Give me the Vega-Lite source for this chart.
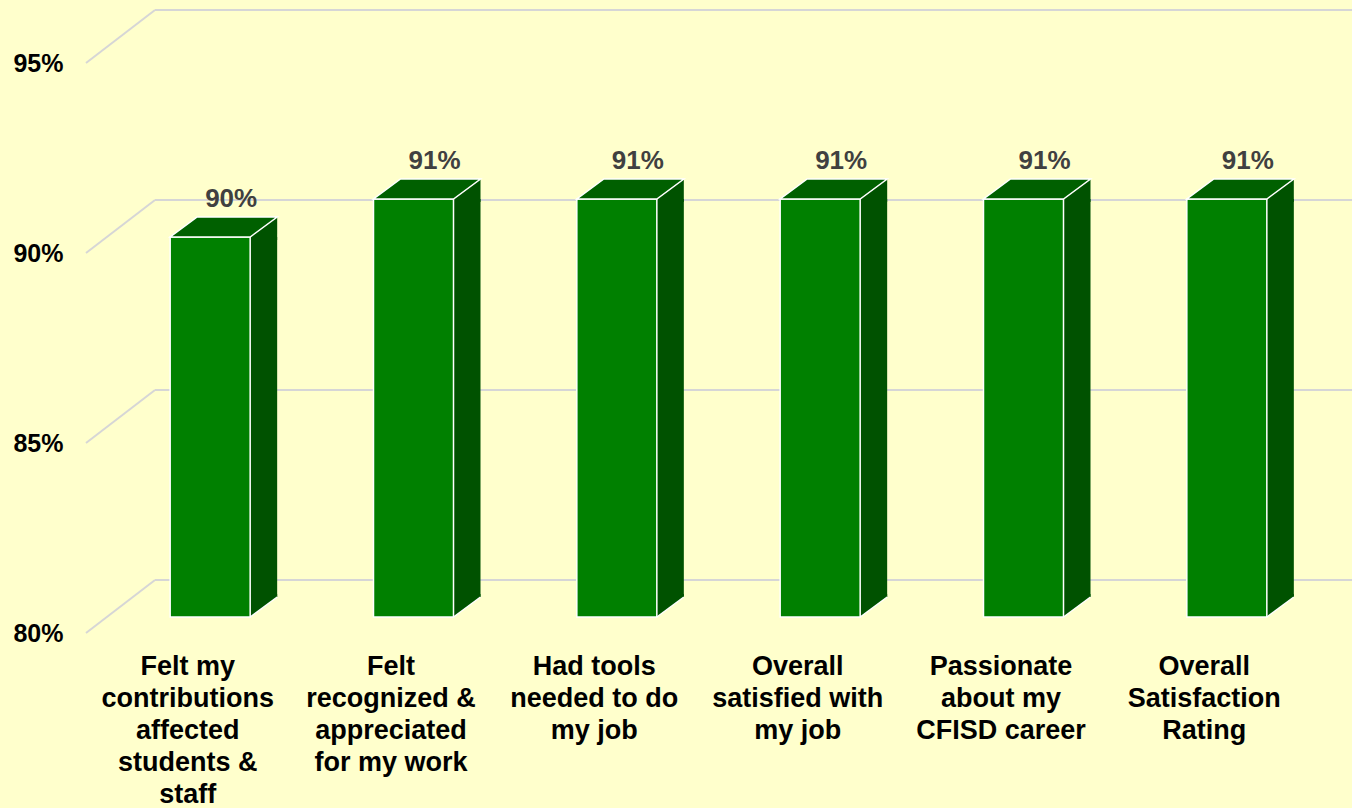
{
  "$schema": "https://vega.github.io/schema/vega-lite/v6.json",
  "width": 1220,
  "height": 570,
  "autosize": {"type": "none"},
  "padding": {"left": 86, "top": 63, "right": 46, "bottom": 175},
  "background": "#FFFFCC",
  "config": {
    "view": {"stroke": null},
    "font": "Liberation Sans"
  },
  "datasets": {
    "bars": [
      {"cat": "Felt my\ncontributions\naffected\nstudents &\nstaff", "value": 0.90},
      {"cat": "Felt\nrecognized &\nappreciated\nfor my work", "value": 0.91},
      {"cat": "Had tools\nneeded to do\nmy job", "value": 0.91},
      {"cat": "Overall\nsatisfied with\nmy job", "value": 0.91},
      {"cat": "Passionate\nabout my\nCFISD career", "value": 0.91},
      {"cat": "Overall\nSatisfaction\nRating", "value": 0.91}
    ],
    "ticks": [{"tick": 0.80}, {"tick": 0.85}, {"tick": 0.90}, {"tick": 0.95}]
  },
  "data": {"name": "bars"},
  "layer": [
    {
      "data": {"name": "ticks"},
      "mark": {"type": "rule", "color": "#D6D6D6", "strokeWidth": 2, "yOffset": -53},
      "encoding": {
        "x": {"value": 69},
        "x2": {"value": 1266},
        "y": {"field": "tick", "type": "quantitative", "scale": {"domain": [0.8, 0.95], "zero": false, "nice": false},
          "axis": {"values": [0.8, 0.85, 0.9, 0.95], "format": ".0%", "title": null, "domain": false, "ticks": false, "grid": false,
            "labelFont": "Liberation Sans", "labelFontWeight": "bold", "labelFontSize": 25, "labelColor": "#000000", "labelPadding": 23}}
      }
    },
    {
      "data": {"name": "ticks"},
      "mark": {"type": "rule", "color": "#D6D6D6", "strokeWidth": 2, "y2Offset": -53},
      "encoding": {
        "x": {"value": 0},
        "x2": {"value": 69},
        "y": {"field": "tick", "type": "quantitative"},
        "y2": {"field": "tick"}
      }
    },
    {
      "mark": {"type": "bar", "width": 27, "xOffset": 76, "yOffset": -16, "y2Offset": -36, "color": "#005200"},
      "encoding": {
        "x": {"field": "cat", "type": "nominal", "sort": null, "scale": {"paddingInner": 0, "paddingOuter": 0},
          "axis": {"title": null, "domain": false, "ticks": false, "labelAngle": 0, "labelExpr": "split(datum.value, '\\n')",
            "labelFont": "Liberation Sans", "labelFontWeight": "bold", "labelFontSize": 27, "labelLineHeight": 32, "labelColor": "#000000",
            "labelPadding": 20, "labelLimit": 400}},
        "y": {"field": "value", "type": "quantitative"},
        "y2": {"datum": 0.8}
      }
    },
    {
      "mark": {"type": "point", "shape": "M40,0L67,-20L67,3L40,3Z", "size": 4, "filled": true, "opacity": 1, "color": "#005200", "strokeWidth": 0, "xOffset": 22.5, "yOffset": -16},
      "encoding": {
        "x": {"field": "cat", "type": "nominal", "sort": null},
        "y": {"field": "value", "type": "quantitative"}
      }
    },
    {
      "mark": {"type": "point", "shape": "M40,0L40,-23L67,-23L67,-20Z", "size": 4, "filled": true, "opacity": 1, "color": "#005200", "strokeWidth": 0, "xOffset": 22.5, "yOffset": -16},
      "encoding": {
        "x": {"field": "cat", "type": "nominal", "sort": null},
        "y": {"datum": 0.8}
      }
    },
    {
      "mark": {"type": "bar", "width": 80, "xOffset": 22.5, "yOffset": -16, "y2Offset": -16, "color": "#008000", "stroke": "#FFFFFF", "strokeWidth": 1.5},
      "encoding": {
        "x": {"field": "cat", "type": "nominal", "sort": null},
        "y": {"field": "value", "type": "quantitative"},
        "y2": {"datum": 0.8}
      }
    },
    {
      "mark": {"type": "point", "shape": "M-40,0L40,0L67,-20L-13,-20Z", "size": 4, "filled": true, "opacity": 1, "fill": "#006000", "stroke": "#FFFFFF", "strokeWidth": 1.5, "xOffset": 22.5, "yOffset": -16},
      "encoding": {
        "x": {"field": "cat", "type": "nominal", "sort": null},
        "y": {"field": "value", "type": "quantitative"}
      }
    },
    {
      "mark": {"type": "rule", "color": "#FFFFFF", "strokeWidth": 1.5, "xOffset": 62.5, "x2Offset": 89.5, "yOffset": -16, "y2Offset": -36},
      "encoding": {
        "x": {"field": "cat", "type": "nominal", "sort": null},
        "x2": {"field": "cat"},
        "y": {"datum": 0.8},
        "y2": {"datum": 0.8}
      }
    },
    {
      "mark": {"type": "text", "xOffset": 43.5, "yOffset": -54, "font": "Liberation Sans", "fontWeight": "bold", "fontSize": 26, "color": "#404040"},
      "encoding": {
        "x": {"field": "cat", "type": "nominal", "sort": null},
        "y": {"field": "value", "type": "quantitative"},
        "text": {"field": "value", "type": "quantitative", "format": ".0%"}
      }
    }
  ]
}
